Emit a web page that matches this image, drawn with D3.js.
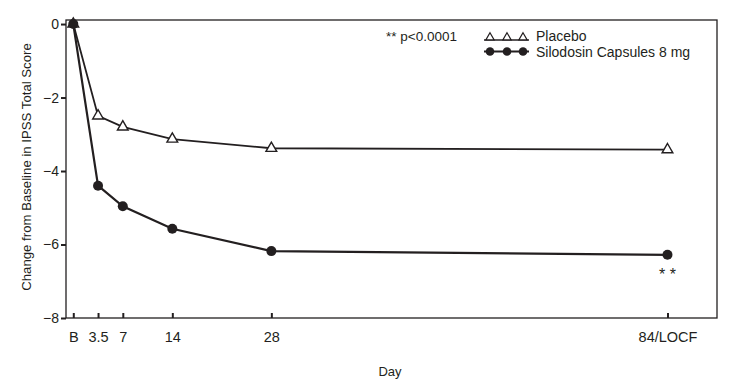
<!DOCTYPE html>
<html><head><meta charset="utf-8">
<script src="https://cdn.jsdelivr.net/npm/d3@7"></script>
<style>body{margin:0;background:#fff}svg{display:block;font-family:"Liberation Sans",Arial,sans-serif}</style>
</head><body>
<script>
const days = [0, 3.5, 7, 14, 28, 84];
const tickLabels = ["B", "3.5", "7", "14", "28", "84/LOCF"];
const placebo = [0, -2.5, -2.8, -3.13, -3.38, -3.42];
const silodosin = [0, -4.4, -4.96, -5.57, -6.18, -6.28];
const yTicks = [0, -2, -4, -6, -8];
const seriesNames = ["Placebo", "Silodosin Capsules 8 mg"];

const W = 730, H = 381;
const FF = "Liberation Sans, Arial, sans-serif";
const svg = d3.select("body").append("svg").attr("width", W).attr("height", H);
const x = d3.scaleLinear().domain([-1.03, 91]).range([66, 717]);
const y = d3.scaleLinear().domain([0.11, -8]).range([20, 318]);
const ink = "#231f20";

// frame
svg.append("rect").attr("x", 66).attr("y", 20).attr("width", 717 - 66).attr("height", 318 - 20)
  .attr("fill", "none").attr("stroke", ink).attr("stroke-width", 1.3);

// y axis
const ya = svg.append("g").attr("transform", "translate(66,0)")
  .call(d3.axisLeft(y).tickValues(yTicks).tickSize(5).tickPadding(2).tickFormat(d3.format("d")));
ya.select(".domain").remove();
ya.selectAll("line").attr("stroke", ink).attr("stroke-width", 2);
ya.selectAll("text").attr("font-size", 14).attr("fill", ink).attr("font-family", FF);

// x axis
const xa = svg.append("g").attr("transform", "translate(0,318)")
  .call(d3.axisBottom(x).tickValues(days).tickSize(0).tickPadding(14).tickFormat((d, i) => tickLabels[i]));
xa.select(".domain").remove();
xa.selectAll(".tick line").attr("y1", -5).attr("y2", 0).attr("stroke", ink).attr("stroke-width", 2);
xa.selectAll("text").attr("font-size", 14.5).attr("fill", ink).attr("font-family", FF);

// axis titles
svg.append("text").attr("x", 390).attr("y", 376).attr("text-anchor", "middle")
  .attr("font-size", 13).attr("fill", ink).text("Day");
svg.append("text").attr("transform", "translate(31,167) rotate(-90)").attr("text-anchor", "middle")
  .attr("font-size", 13.2).attr("fill", ink).text("Change from Baseline in IPSS Total Score");

const line = d3.line().x((d, i) => x(days[i])).y(d => y(d));
const tri = d3.symbol().type(d3.symbolTriangle).size(50);

svg.append("path").datum(placebo).attr("d", line).attr("fill", "none").attr("stroke", ink).attr("stroke-width", 1.8);
svg.append("path").datum(silodosin).attr("d", line).attr("fill", "none").attr("stroke", ink).attr("stroke-width", 2.2);

svg.selectAll(".tri").data(placebo).join("path")
  .attr("transform", (d, i) => `translate(${x(days[i])},${y(d)})`)
  .attr("d", tri).attr("fill", "#fff").attr("stroke", ink).attr("stroke-width", 1.4);
svg.selectAll(".dot").data(silodosin).join("circle")
  .attr("cx", (d, i) => x(days[i])).attr("cy", d => y(d)).attr("r", 5).attr("fill", ink);

// significance stars
svg.append("text").attr("x", x(84)).attr("y", y(silodosin[5]) + 25).attr("text-anchor", "middle")
  .attr("font-size", 16).attr("fill", ink).text("* *");

// legend
svg.append("text").attr("x", 386).attr("y", 40.5).attr("font-size", 13.5).attr("fill", ink).text("** p<0.0001");
const lx = [490, 507, 523];
svg.append("line").attr("x1", 484).attr("x2", 529).attr("y1", 40).attr("y2", 40).attr("stroke", ink).attr("stroke-width", 1.5);
svg.selectAll(".ltri").data(lx).join("path").attr("transform", d => `translate(${d},37.5)`)
  .attr("d", d3.symbol().type(d3.symbolTriangle).size(30)).attr("fill", "#fff").attr("stroke", ink).attr("stroke-width", 1.2);
svg.append("text").attr("x", 536).attr("y", 40.5).attr("font-size", 14).attr("fill", ink).text(seriesNames[0]);
svg.append("line").attr("x1", 484).attr("x2", 529).attr("y1", 51.5).attr("y2", 51.5).attr("stroke", ink).attr("stroke-width", 2);
svg.selectAll(".ldot").data(lx).join("circle").attr("cx", d => d).attr("cy", 51.5).attr("r", 4.3).attr("fill", ink);
svg.append("text").attr("x", 536).attr("y", 56.5).attr("font-size", 14).attr("fill", ink).text(seriesNames[1]);
</script>
</body></html>
